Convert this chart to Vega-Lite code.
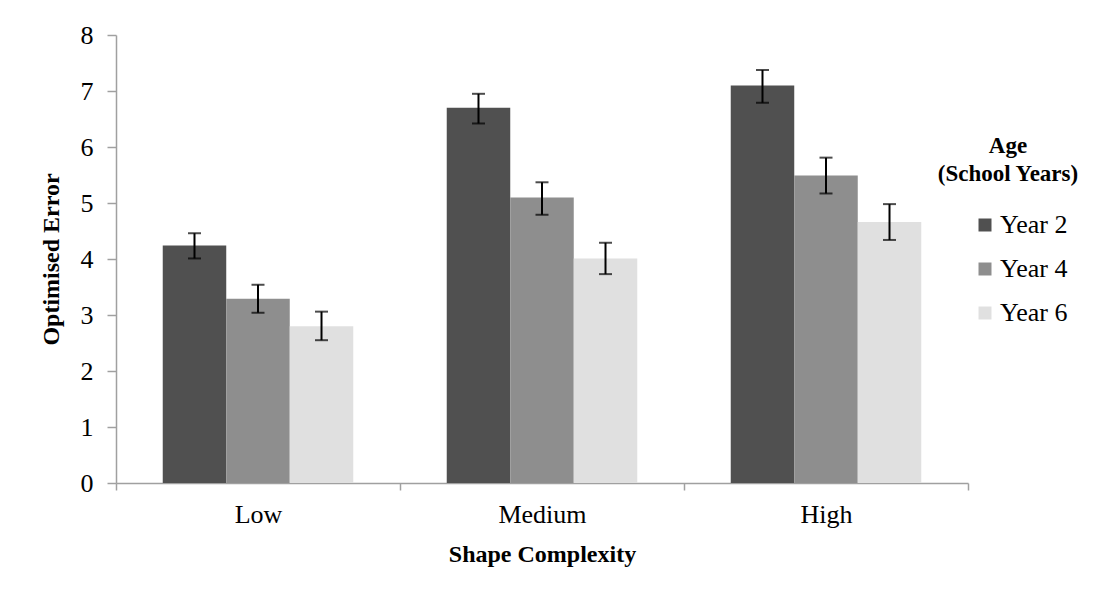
{
  "$schema": "https://vega.github.io/schema/vega-lite/v6.json",
  "width": 852,
  "height": 448,
  "autosize": {"type": "none"},
  "padding": {"left": 116, "top": 35, "right": 150, "bottom": 118},
  "background": "white",
  "config": {"view": {"stroke": null}, "font": "Liberation Serif"},
  "data": {
    "values": [
      {"complexity": "Low", "age": "Year 2", "value": 4.24, "lo": 4.01, "hi": 4.46},
      {"complexity": "Low", "age": "Year 4", "value": 3.29, "lo": 3.04, "hi": 3.54},
      {"complexity": "Low", "age": "Year 6", "value": 2.80, "lo": 2.55, "hi": 3.06},
      {"complexity": "Medium", "age": "Year 2", "value": 6.70, "lo": 6.42, "hi": 6.95},
      {"complexity": "Medium", "age": "Year 4", "value": 5.10, "lo": 4.79, "hi": 5.37},
      {"complexity": "Medium", "age": "Year 6", "value": 4.01, "lo": 3.73, "hi": 4.29},
      {"complexity": "High", "age": "Year 2", "value": 7.10, "lo": 6.79, "hi": 7.375},
      {"complexity": "High", "age": "Year 4", "value": 5.49, "lo": 5.17, "hi": 5.81},
      {"complexity": "High", "age": "Year 6", "value": 4.66, "lo": 4.34, "hi": 4.98}
    ]
  },
  "encoding": {
    "x": {
      "field": "complexity",
      "type": "nominal",
      "sort": ["Low", "Medium", "High"],
      "scale": {"paddingInner": 0, "paddingOuter": 0},
      "title": "Shape Complexity",
      "axis": {
        "labelAngle": 0,
        "tickBand": "extent",
        "tickSize": 7,
        "tickWidth": 1.5,
        "domainWidth": 1.5,
        "domainColor": "#a0a0a0",
        "tickColor": "#a0a0a0",
        "labelFontSize": 26,
        "labelColor": "black",
        "labelPadding": 11,
        "titleFontSize": 24,
        "titleFontWeight": "bold",
        "titleColor": "black",
        "titlePadding": 15
      }
    },
    "xOffset": {
      "field": "age",
      "type": "nominal",
      "sort": ["Year 2", "Year 4", "Year 6"],
      "scale": {"paddingInner": 0, "paddingOuter": 0.736}
    }
  },
  "layer": [
    {
      "mark": {"type": "bar"},
      "encoding": {
        "y": {
          "field": "value",
          "type": "quantitative",
          "scale": {"domain": [0, 8]},
          "title": "Optimised Error",
          "axis": {
            "values": [0, 1, 2, 3, 4, 5, 6, 7, 8],
            "format": "d",
            "grid": false,
            "tickSize": 9,
            "tickWidth": 1.5,
            "domainWidth": 1.5,
            "domainColor": "#a0a0a0",
            "tickColor": "#a0a0a0",
            "labelFontSize": 26,
            "labelColor": "black",
            "labelPadding": 14,
            "titleFontSize": 24,
            "titleFontWeight": "bold",
            "titleColor": "black",
            "titlePadding": 17
          }
        },
        "color": {
          "field": "age",
          "type": "nominal",
          "sort": ["Year 2", "Year 4", "Year 6"],
          "scale": {"range": ["#505050", "#8e8e8e", "#e0e0e0"]},
          "legend": {
            "orient": "none",
            "legendX": 821,
            "legendY": 100,
            "title": ["Age", "(School Years)"],
            "titleFontSize": 23,
            "titleFontWeight": "bold",
            "titleColor": "black",
            "titleAnchor": "middle",
            "titleAlign": "center",
            "titleLineHeight": 28,
            "titlePadding": 26,
            "labelFontSize": 26,
            "labelColor": "black",
            "symbolType": "square",
            "symbolSize": 169,
            "symbolStrokeWidth": 0,
            "symbolOffset": 23,
            "labelOffset": 2,
            "rowPadding": 18
          }
        }
      }
    },
    {
      "mark": {"type": "rule", "color": "black", "strokeWidth": 2},
      "encoding": {
        "y": {"field": "lo", "type": "quantitative"},
        "y2": {"field": "hi"}
      }
    },
    {
      "mark": {"type": "tick", "color": "black", "thickness": 2, "size": 13, "orient": "horizontal"},
      "encoding": {"y": {"field": "lo", "type": "quantitative"}}
    },
    {
      "mark": {"type": "tick", "color": "black", "thickness": 2, "size": 13, "orient": "horizontal"},
      "encoding": {"y": {"field": "hi", "type": "quantitative"}}
    }
  ]
}
